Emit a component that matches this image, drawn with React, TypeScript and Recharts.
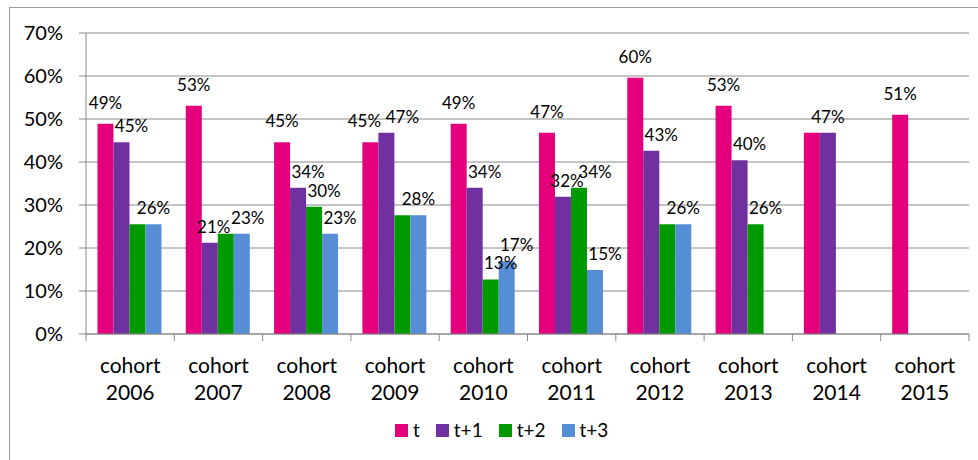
import React from 'react'
import { BarChart, Bar, XAxis, YAxis, CartesianGrid, Legend, LabelList } from 'recharts'

const categories = ['2006', '2007', '2008', '2009', '2010', '2011', '2012', '2013', '2014', '2015']
const seriesNames = ['t', 't+1', 't+2', 't+3']
const tValues = [48.9, 53.1, 44.6, 44.6, 48.9, 46.8, 59.6, 53.1, 46.8, 51.0]
const t1Values = [44.6, 21.2, 34.0, 46.8, 34.0, 31.9, 42.6, 40.4, 46.8, null]
const t2Values = [25.5, 23.3, 29.6, 27.6, 12.7, 34.0, 25.5, 25.5, null, null]
const t3Values = [25.5, 23.3, 23.3, 27.6, 17.0, 14.9, 25.5, null, null, null]
const yTicks = [0, 10, 20, 30, 40, 50, 60, 70]

const COLORS = ['#e4007c', '#7030a0', '#009a00', '#558ed5']
const FONT = "Lato, 'Liberation Sans', sans-serif"
const GRID = '#8a8a8a'

const allSeries = [tValues, t1Values, t2Values, t3Values]
const data = categories.map((c, i) => ({
  name: c,
  s0: tValues[i],
  s1: t1Values[i],
  s2: t2Values[i],
  s3: t3Values[i]
}))

const fmt = (v: number) => `${Math.round(v)}%`
const val = (s: number, i: number) => allSeries[s]?.[i] ?? null

// hidden when the next bar shows the same label
function isShown(s: number, i: number) {
  const v = val(s, i)
  if (v == null) return false
  const next = val(s + 1, i)
  return !(next != null && Math.round(next) === Math.round(v))
}

function isMerged(s: number, i: number) {
  const v = val(s, i)
  const prev = val(s - 1, i)
  return v != null && prev != null && Math.round(prev) === Math.round(v)
}

function prevShown(s: number, i: number) {
  for (let p = s - 1; p >= 0; p--) if (isShown(p, i)) return p
  return -1
}

function nextShown(s: number, i: number) {
  for (let n = s + 1; n < allSeries.length; n++) if (isShown(n, i)) return n
  return -1
}

// labels that nearly collide get pushed apart
function clashes(a: number, b: number, i: number) {
  if (a < 0 || b < 0) return false
  return Math.abs((val(a, i) as number) - (val(b, i) as number)) < 3
}

function makeLabel(s: number) {
  return (props: any) => {
    const { x, y, width, index } = props
    if (!isShown(s, index)) return null
    const v = val(s, index) as number
    let dx = s === 0 || isMerged(s, index) ? 0 : 10
    if (clashes(prevShown(s, index), s, index)) dx += 6
    if (clashes(s, nextShown(s, index), index)) dx -= 6
    const lift = s === 0 ? 15 : 10
    return (
      <text
        x={x + width / 2 + dx}
        y={y - lift}
        textAnchor="middle"
        fontSize={17}
        fontFamily={FONT}
        fill="#000"
      >
        {fmt(v)}
      </text>
    )
  }
}

function CohortTick(props: any) {
  const { x, y, payload, index } = props
  const half = payload?.offset || 44.15
  return (
    <g>
      <line x1={x - half} x2={x - half} y1={y} y2={y + 7} stroke={GRID} />
      {index === categories.length - 1 && (
        <line x1={x + half} x2={x + half} y1={y} y2={y + 7} stroke={GRID} />
      )}
      <text textAnchor="middle" fontSize={21} fontFamily={FONT} fill="#000">
        <tspan x={x} y={y + 39}>cohort</tspan>
        <tspan x={x} y={y + 66}>{payload.value}</tspan>
      </text>
    </g>
  )
}

function LegendContent() {
  return (
    <div style={{ height: 50, display: 'flex', alignItems: 'flex-start', fontFamily: FONT, fontSize: 19 }}>
      {seriesNames.map((n, i) => (
        <div key={n} style={{ display: 'flex', alignItems: 'center', marginRight: 16, marginTop: 11 }}>
          <span style={{ width: 13, height: 13, background: COLORS[i], display: 'inline-block', marginRight: 5 }} />
          <span style={{ lineHeight: '18px', color: '#000' }}>{n}</span>
        </div>
      ))}
    </div>
  )
}

export default function App() {
  return (
    <div style={{ position: 'absolute', left: 0, top: 0, width: 978, height: 460, overflow: 'hidden', background: '#fff' }}>
      <div style={{ position: 'absolute', left: 9, top: 7, width: 990, height: 480, border: '1px solid #9a9a9a' }} />
      <BarChart
        width={978}
        height={460}
        data={data}
        margin={{ top: 33, right: 9, left: 0, bottom: 0 }}
        barCategoryGap="13%"
        barGap={0}
        style={{ position: 'absolute', left: 0, top: 0 }}
      >
        <CartesianGrid vertical={false} stroke={GRID} />
        <XAxis
          dataKey="name"
          height={76}
          stroke={GRID}
          tickLine={false}
          tickSize={0}
          tickMargin={0}
          interval={0}
          tick={<CohortTick />}
        />
        <YAxis
          width={86}
          domain={[0, 70]}
          ticks={yTicks}
          stroke={GRID}
          tickSize={7}
          tickMargin={16}
          tickFormatter={(v: number) => `${v}%`}
          tick={{ fontSize: 20, fill: '#000', fontFamily: FONT }}
        />
        <Legend
          verticalAlign="bottom"
          height={50}
          content={<LegendContent />}
          wrapperStyle={{ left: 395, bottom: 0, width: 260 }}
        />
        {seriesNames.map((n, s) => (
          <Bar key={n} dataKey={`s${s}`} name={n} fill={COLORS[s]} isAnimationActive={false}>
            <LabelList dataKey={`s${s}`} content={makeLabel(s)} />
          </Bar>
        ))}
      </BarChart>
    </div>
  )
}
